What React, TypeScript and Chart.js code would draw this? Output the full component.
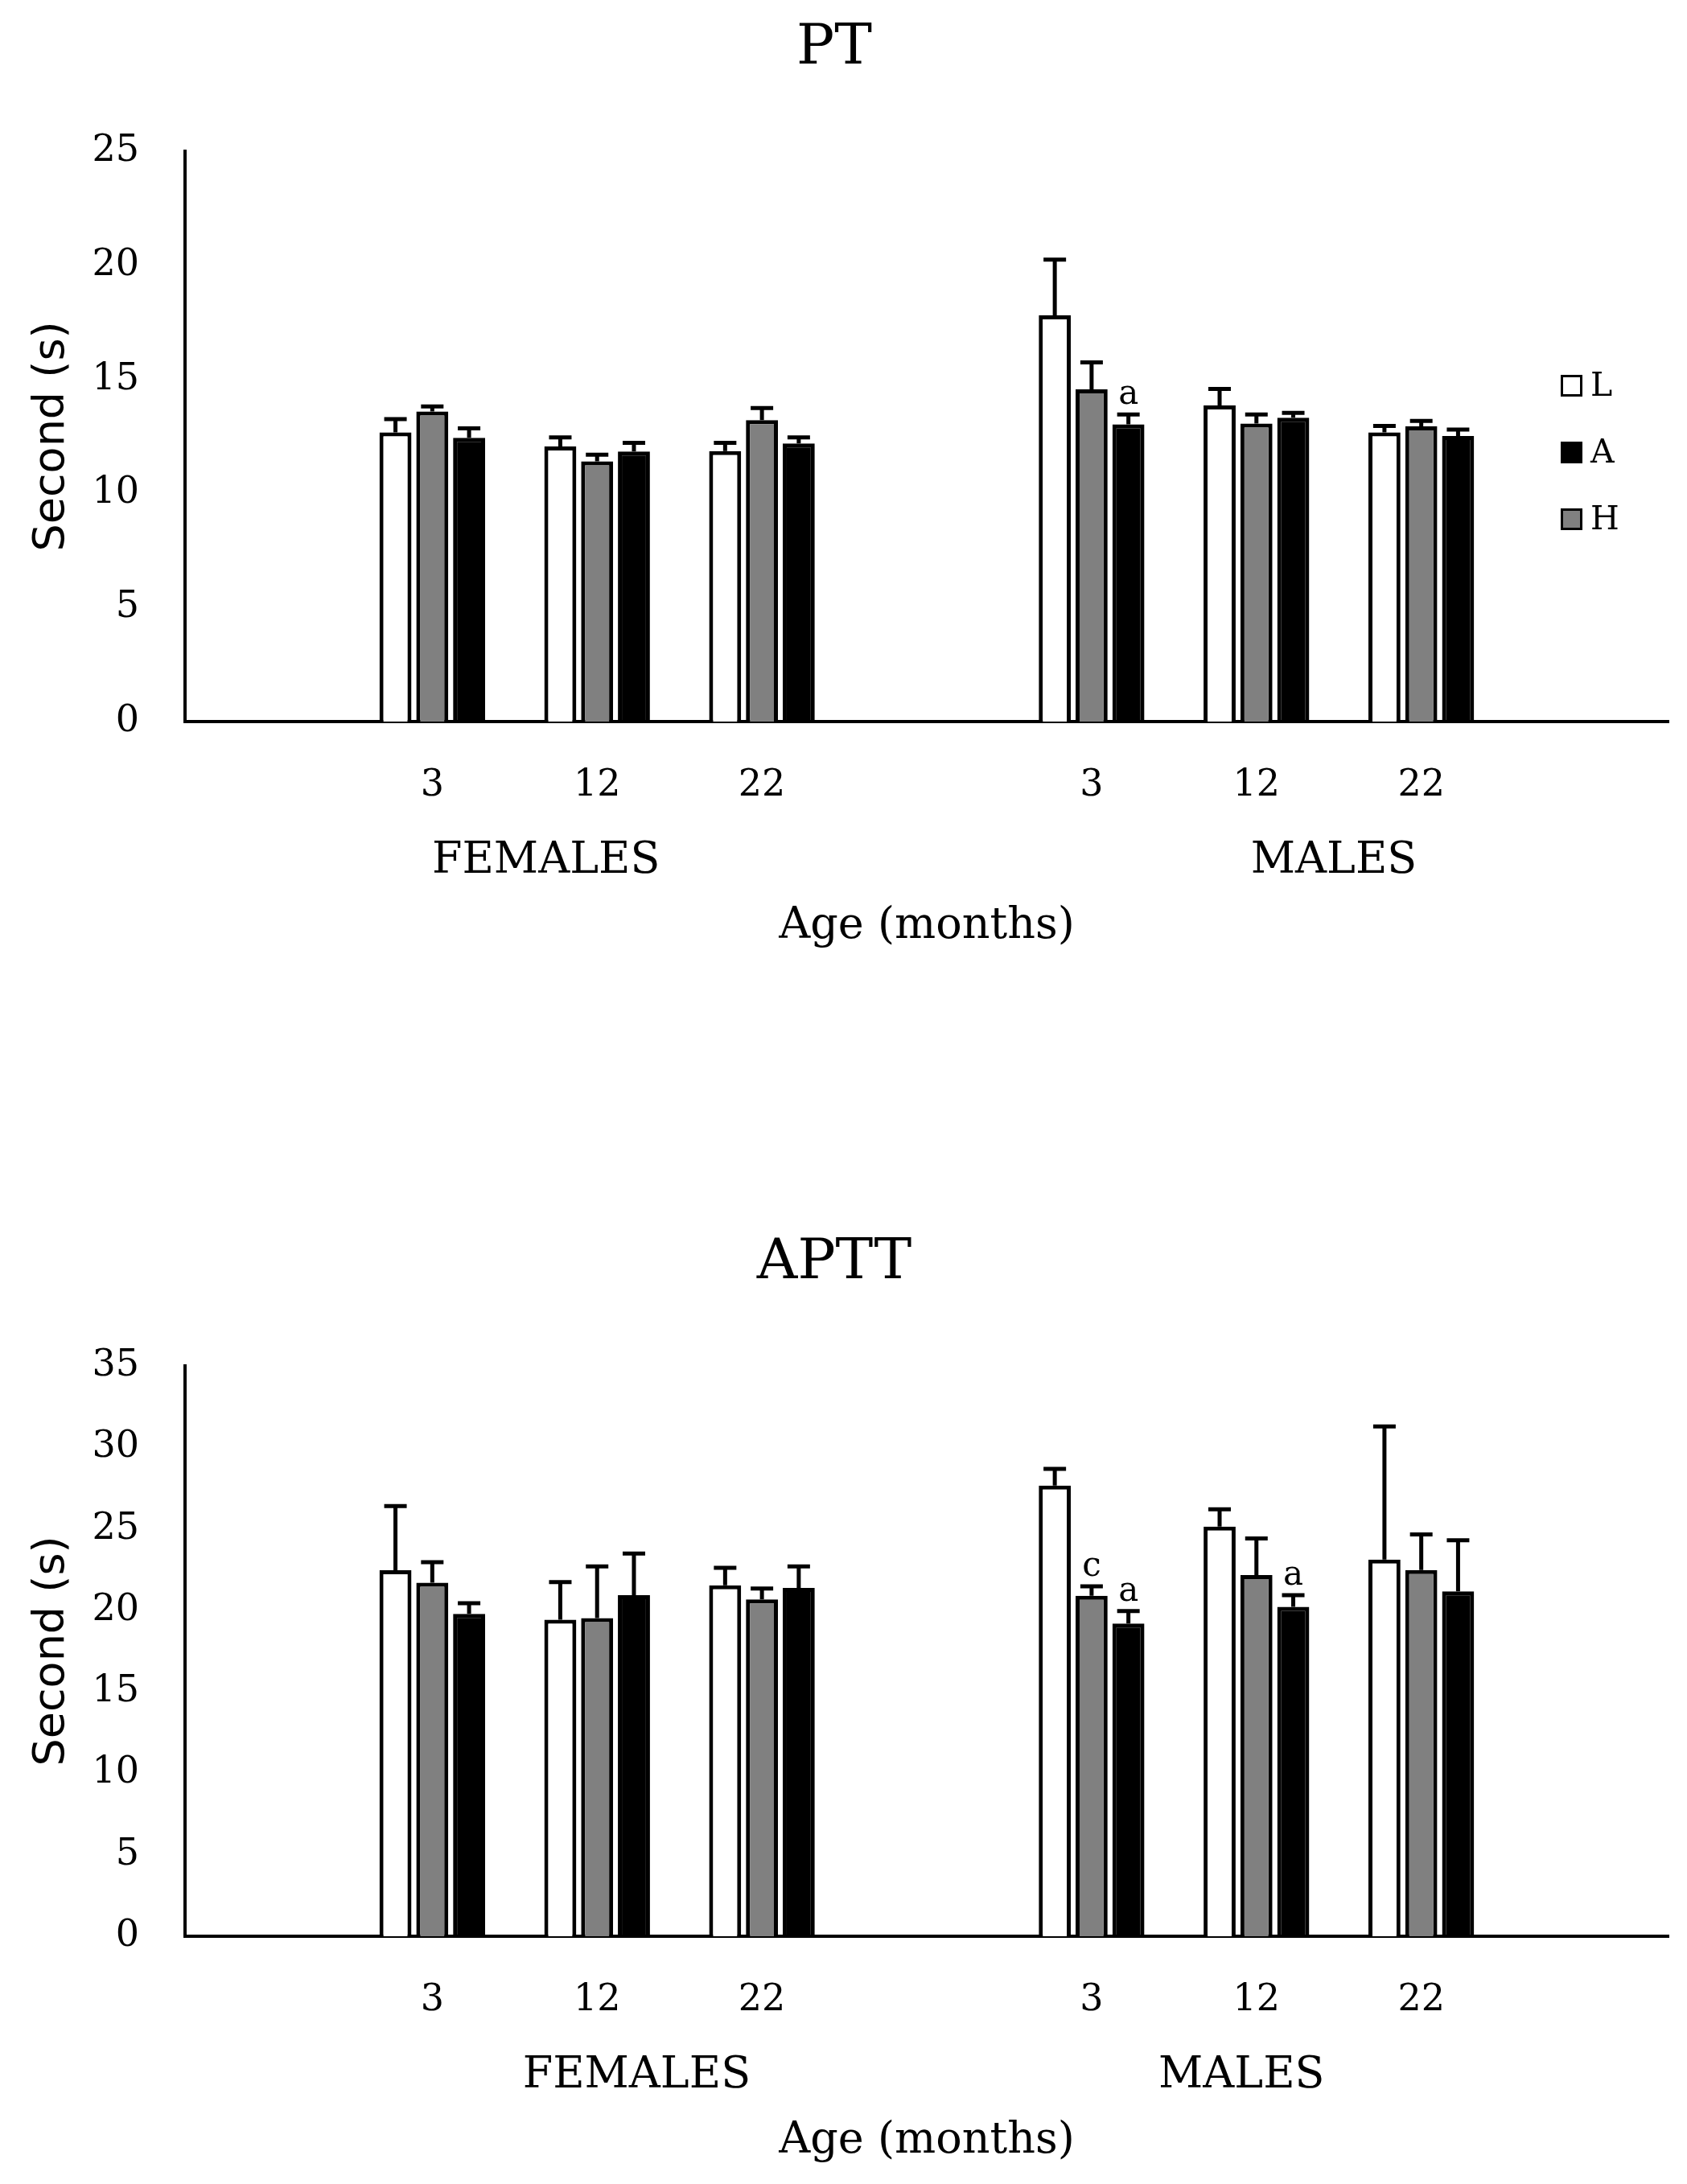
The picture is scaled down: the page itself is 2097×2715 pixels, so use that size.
import React, { useEffect, useRef } from 'react';
import { Chart, registerables } from 'chart.js';

Chart.register(...registerables);

// categories: empty slots pad the two sex groups
const slotLabels = ['', '3', '12', '22', '', '3', '12', '22', ''];
const groupLabels = ['FEMALES', 'MALES'];
const seriesNames = ['L', 'H', 'A'];
const seriesColors = ['#ffffff', '#808080', '#000000'];
const legendOrder = ['L', 'A', 'H'];

// PT (s)
const ptL = [null, 12.68, 12.06, 11.86, null, 17.81, 13.86, 12.68, null];
const ptH = [null, 13.59, 11.41, 13.21, null, 14.56, 13.06, 12.94, null];
const ptA = [null, 12.44, 11.84, 12.19, null, 13.03, 13.32, 12.52, null];
const ptLErr = [null, 0.58, 0.4, 0.36, null, 2.44, 0.72, 0.28, null];
const ptHErr = [null, 0.22, 0.29, 0.53, null, 1.18, 0.4, 0.24, null];
const ptAErr = [null, 0.41, 0.38, 0.27, null, 0.43, 0.21, 0.28, null];
const ptMarks = [{ series: 'A', slot: 5, text: 'a' }];

// APTT (s)
const apttL = [null, 22.46, 19.42, 21.54, null, 27.66, 25.14, 23.11, null];
const apttH = [null, 21.69, 19.52, 20.67, null, 20.9, 22.16, 22.47, null];
const apttA = [null, 19.78, 20.93, 21.37, null, 19.19, 20.22, 21.16, null];
const apttLErr = [null, 3.94, 2.31, 1.07, null, 1.02, 1.06, 8.17, null];
const apttHErr = [null, 1.26, 3.17, 0.67, null, 0.57, 2.25, 2.19, null];
const apttAErr = [null, 0.66, 2.56, 1.32, null, 0.76, 0.71, 3.14, null];
const apttMarks = [
    { series: 'H', slot: 5, text: 'c' },
    { series: 'A', slot: 5, text: 'a' },
    { series: 'A', slot: 6, text: 'a' },
];

const SERIF = "'DejaVu Serif', 'Liberation Serif', serif";
const SANS = "'DejaVu Sans', 'Liberation Sans', sans-serif";

interface Mark {
    series: string;
    slot: number;
    text: string;
}

interface PanelProps {
    title: string;
    yMax: number;
    values: (number | null)[][];
    errors: (number | null)[][];
    marks: Mark[];
    groupPos: number[];
    showLegend: boolean;
    top: number;
}

const Panel: React.FC<PanelProps> = ({ title, yMax, values, errors, marks, groupPos, showLegend, top }) => {
    const chartRef = useRef<HTMLCanvasElement | null>(null);

    useEffect(() => {
        if (!chartRef.current) return;
        const ctx = chartRef.current.getContext('2d');
        if (!ctx) return;

        const extras = {
            id: 'extras',
            afterDatasetsDraw(chart: any) {
                const c = chart.ctx;
                const yScale = chart.scales.y;
                c.save();
                c.strokeStyle = '#000';
                c.lineWidth = 5;
                // upper error whiskers
                chart.data.datasets.forEach((ds: any, i: number) => {
                    const meta = chart.getDatasetMeta(i);
                    meta.data.forEach((el: any, j: number) => {
                        const v = ds.data[j];
                        const e = errors[i][j];
                        if (v == null || e == null) return;
                        const yTop = yScale.getPixelForValue(v + e);
                        c.beginPath();
                        c.moveTo(el.x, el.y);
                        c.lineTo(el.x, yTop);
                        c.moveTo(el.x - 14, yTop);
                        c.lineTo(el.x + 14, yTop);
                        c.stroke();
                    });
                });
                // significance letters
                c.fillStyle = '#000';
                c.font = `42px ${SERIF}`;
                c.textAlign = 'center';
                c.textBaseline = 'alphabetic';
                marks.forEach((m) => {
                    const i = seriesNames.indexOf(m.series);
                    const el = chart.getDatasetMeta(i).data[m.slot];
                    const v = values[i][m.slot] as number;
                    const e = (errors[i][m.slot] as number) || 0;
                    c.fillText(m.text, el.x, yScale.getPixelForValue(v + e) - 13);
                });
                c.restore();
            },
            afterDraw(chart: any) {
                const c = chart.ctx;
                const area = chart.chartArea;
                const xScale = chart.scales.x;
                c.save();
                c.fillStyle = '#000';
                c.font = `54px ${SERIF}`;
                c.textAlign = 'center';
                c.textBaseline = 'middle';
                groupLabels.forEach((g, k) => {
                    c.fillText(g, xScale.getPixelForValue(groupPos[k]), area.bottom + 174);
                });
                if (showLegend) {
                    c.font = `41px ${SERIF}`;
                    c.textAlign = 'left';
                    legendOrder.forEach((name, k) => {
                        const i = seriesNames.indexOf(name);
                        const x = area.right - 134;
                        const y = area.top + 291 + k * 83;
                        c.fillStyle = seriesColors[i];
                        c.fillRect(x, y - 13, 27, 27);
                        c.strokeStyle = '#000';
                        c.lineWidth = 3;
                        c.strokeRect(x + 1.5, y - 11.5, 24, 24);
                        c.fillStyle = '#000';
                        c.fillText(name, x + 37, y + 2);
                    });
                }
                c.restore();
            },
        };

        const myChart = new Chart(ctx, {
            type: 'bar',
            data: {
                labels: slotLabels,
                datasets: seriesNames.map((name, i) => ({
                    label: name,
                    data: values[i],
                    backgroundColor: seriesColors[i],
                    borderColor: '#000000',
                    borderWidth: 5,
                    categoryPercentage: 0.67,
                    barPercentage: 0.87,
                })),
            },
            options: {
                responsive: false,
                animation: false,
                devicePixelRatio: 1,
                layout: { padding: { left: 0, right: 23, top: 0, bottom: 0 } },
                plugins: {
                    legend: { display: false },
                    tooltip: { enabled: false },
                    title: {
                        display: true,
                        text: title,
                        color: '#000',
                        font: { family: SERIF, size: 70, weight: 'normal' },
                        padding: { top: 19, bottom: 85 },
                    },
                },
                scales: {
                    x: {
                        type: 'category',
                        grid: { display: false, drawTicks: false },
                        border: { display: true, color: '#000', width: 4 },
                        ticks: {
                            color: '#000',
                            font: { family: SERIF, size: 46 },
                            padding: 52,
                            autoSkip: false,
                            maxRotation: 0,
                        },
                        title: {
                            display: true,
                            text: 'Age (months)',
                            color: '#000',
                            font: { family: SERIF, size: 54 },
                            padding: { top: 0, bottom: 26 },
                        },
                        afterFit: (scale: any) => {
                            scale.height = 313;
                        },
                    },
                    y: {
                        min: 0,
                        max: yMax,
                        grid: { display: false, drawTicks: false },
                        border: { display: true, color: '#000', width: 4 },
                        ticks: {
                            stepSize: 5,
                            color: '#000',
                            font: { family: SERIF, size: 46 },
                            padding: 57,
                        },
                        title: {
                            display: true,
                            text: 'Second (s)',
                            color: '#000',
                            font: { family: SANS, size: 54 },
                            padding: { top: 33, bottom: 0 },
                        },
                        afterFit: (scale: any) => {
                            scale.width = 230;
                        },
                    },
                },
            },
            plugins: [extras],
        } as any);

        return () => {
            myChart.destroy();
        };
    }, [title, yMax, values, errors, marks, groupPos, showLegend]);

    return (
        <canvas
            ref={chartRef}
            width={2097}
            height={1210}
            style={{ position: 'absolute', left: 0, top, display: 'block' }}
        />
    );
};

const App: React.FC = () => {
    useEffect(() => {
        document.body.style.margin = '0';
        document.body.style.background = '#ffffff';
    }, []);

    return (
        <div style={{ position: 'relative', width: 2097, height: 2715, overflow: 'hidden', background: '#fff' }}>
            <Panel
                title="PT"
                yMax={25}
                values={[ptL, ptH, ptA]}
                errors={[ptLErr, ptHErr, ptAErr]}
                marks={ptMarks}
                groupPos={[1.69, 6.47]}
                showLegend={true}
                top={0}
            />
            <Panel
                title="APTT"
                yMax={35}
                values={[apttL, apttH, apttA]}
                errors={[apttLErr, apttHErr, apttAErr]}
                marks={apttMarks}
                groupPos={[2.24, 5.91]}
                showLegend={false}
                top={1510}
            />
        </div>
    );
};

export default App;
